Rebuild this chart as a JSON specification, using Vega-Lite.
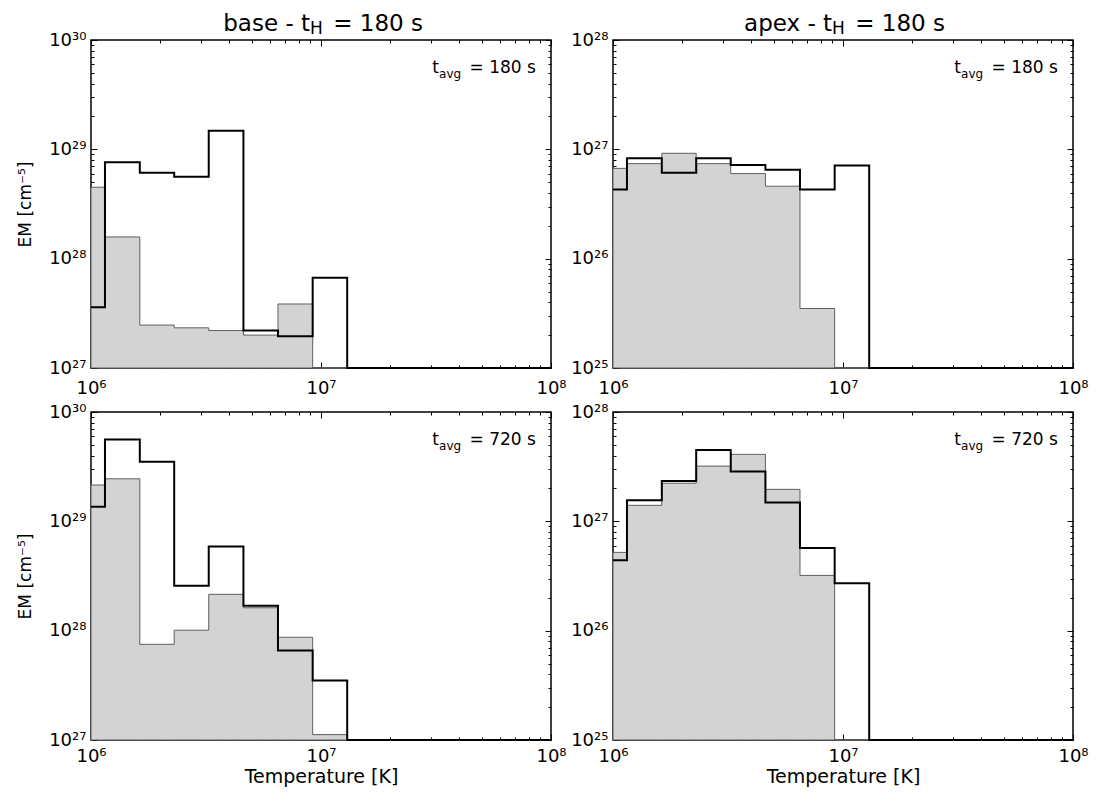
{
  "$schema": "https://vega.github.io/schema/vega-lite/v6.json",
  "padding": {"left": 15, "top": 12, "right": 5, "bottom": 5},
  "bounds": "flush",
  "columns": 2,
  "spacing": {"row": 44, "column": 62},
  "datasets": {
    "hist": [
      {"p": "TL", "s": "gray", "T": 1000000, "EM": 4.5e28},
      {"p": "TL", "s": "gray", "T": 1150000, "EM": 1.58e28},
      {"p": "TL", "s": "gray", "T": 1630000, "EM": 2.47e27},
      {"p": "TL", "s": "gray", "T": 2300000, "EM": 2.33e27},
      {"p": "TL", "s": "gray", "T": 3250000, "EM": 2.2e27},
      {"p": "TL", "s": "gray", "T": 4600000, "EM": 2.0e27},
      {"p": "TL", "s": "gray", "T": 6500000, "EM": 3.85e27},
      {"p": "TL", "s": "gray", "T": 9200000, "EM": 1e27},
      {"p": "TL", "s": "gray", "T": 86500000, "EM": 1e27},
      {"p": "TL", "s": "black", "T": 1000000, "EM": 3.6e27},
      {"p": "TL", "s": "black", "T": 1150000, "EM": 7.6e28},
      {"p": "TL", "s": "black", "T": 1630000, "EM": 6.1e28},
      {"p": "TL", "s": "black", "T": 2300000, "EM": 5.6e28},
      {"p": "TL", "s": "black", "T": 3250000, "EM": 1.48e29},
      {"p": "TL", "s": "black", "T": 4600000, "EM": 2.2e27},
      {"p": "TL", "s": "black", "T": 6500000, "EM": 1.95e27},
      {"p": "TL", "s": "black", "T": 9200000, "EM": 6.7e27},
      {"p": "TL", "s": "black", "T": 13000000, "EM": 1e27},
      {"p": "TL", "s": "black", "T": 100000000, "EM": 1e27},

      {"p": "TR", "s": "gray", "T": 1000000, "EM": 6.7e26},
      {"p": "TR", "s": "gray", "T": 1150000, "EM": 7.4e26},
      {"p": "TR", "s": "gray", "T": 1630000, "EM": 9.2e26},
      {"p": "TR", "s": "gray", "T": 2300000, "EM": 7.4e26},
      {"p": "TR", "s": "gray", "T": 3250000, "EM": 6.0e26},
      {"p": "TR", "s": "gray", "T": 4600000, "EM": 4.6e26},
      {"p": "TR", "s": "gray", "T": 6500000, "EM": 3.5e25},
      {"p": "TR", "s": "gray", "T": 9200000, "EM": 1e25},
      {"p": "TR", "s": "gray", "T": 86500000, "EM": 1e25},
      {"p": "TR", "s": "black", "T": 1000000, "EM": 4.3e26},
      {"p": "TR", "s": "black", "T": 1150000, "EM": 8.3e26},
      {"p": "TR", "s": "black", "T": 1630000, "EM": 6.1e26},
      {"p": "TR", "s": "black", "T": 2300000, "EM": 8.3e26},
      {"p": "TR", "s": "black", "T": 3250000, "EM": 7.2e26},
      {"p": "TR", "s": "black", "T": 4600000, "EM": 6.5e26},
      {"p": "TR", "s": "black", "T": 6500000, "EM": 4.3e26},
      {"p": "TR", "s": "black", "T": 9200000, "EM": 7.1e26},
      {"p": "TR", "s": "black", "T": 13000000, "EM": 1e25},
      {"p": "TR", "s": "black", "T": 100000000, "EM": 1e25},

      {"p": "BL", "s": "gray", "T": 1000000, "EM": 2.15e29},
      {"p": "BL", "s": "gray", "T": 1150000, "EM": 2.45e29},
      {"p": "BL", "s": "gray", "T": 1630000, "EM": 7.5e27},
      {"p": "BL", "s": "gray", "T": 2300000, "EM": 1.01e28},
      {"p": "BL", "s": "gray", "T": 3250000, "EM": 2.15e28},
      {"p": "BL", "s": "gray", "T": 4600000, "EM": 1.62e28},
      {"p": "BL", "s": "gray", "T": 6500000, "EM": 8.7e27},
      {"p": "BL", "s": "gray", "T": 9200000, "EM": 1.12e27},
      {"p": "BL", "s": "gray", "T": 13000000, "EM": 1e27},
      {"p": "BL", "s": "gray", "T": 86500000, "EM": 1e27},
      {"p": "BL", "s": "black", "T": 1000000, "EM": 1.36e29},
      {"p": "BL", "s": "black", "T": 1150000, "EM": 5.6e29},
      {"p": "BL", "s": "black", "T": 1630000, "EM": 3.5e29},
      {"p": "BL", "s": "black", "T": 2300000, "EM": 2.58e28},
      {"p": "BL", "s": "black", "T": 3250000, "EM": 5.9e28},
      {"p": "BL", "s": "black", "T": 4600000, "EM": 1.69e28},
      {"p": "BL", "s": "black", "T": 6500000, "EM": 6.6e27},
      {"p": "BL", "s": "black", "T": 9200000, "EM": 3.5e27},
      {"p": "BL", "s": "black", "T": 13000000, "EM": 1e27},
      {"p": "BL", "s": "black", "T": 100000000, "EM": 1e27},

      {"p": "BR", "s": "gray", "T": 1000000, "EM": 5.2e26},
      {"p": "BR", "s": "gray", "T": 1150000, "EM": 1.4e27},
      {"p": "BR", "s": "gray", "T": 1630000, "EM": 2.23e27},
      {"p": "BR", "s": "gray", "T": 2300000, "EM": 3.2e27},
      {"p": "BR", "s": "gray", "T": 3250000, "EM": 4.1e27},
      {"p": "BR", "s": "gray", "T": 4600000, "EM": 1.96e27},
      {"p": "BR", "s": "gray", "T": 6500000, "EM": 3.2e26},
      {"p": "BR", "s": "gray", "T": 9200000, "EM": 1e25},
      {"p": "BR", "s": "gray", "T": 86500000, "EM": 1e25},
      {"p": "BR", "s": "black", "T": 1000000, "EM": 4.4e26},
      {"p": "BR", "s": "black", "T": 1150000, "EM": 1.56e27},
      {"p": "BR", "s": "black", "T": 1630000, "EM": 2.34e27},
      {"p": "BR", "s": "black", "T": 2300000, "EM": 4.5e27},
      {"p": "BR", "s": "black", "T": 3250000, "EM": 2.85e27},
      {"p": "BR", "s": "black", "T": 4600000, "EM": 1.49e27},
      {"p": "BR", "s": "black", "T": 6500000, "EM": 5.7e26},
      {"p": "BR", "s": "black", "T": 9200000, "EM": 2.72e26},
      {"p": "BR", "s": "black", "T": 13000000, "EM": 1e25},
      {"p": "BR", "s": "black", "T": 100000000, "EM": 1e25}
    ],
    "ann": [
      {"p": "TL", "tavg": "= 180 s"},
      {"p": "TR", "tavg": "= 180 s"},
      {"p": "BL", "tavg": "= 720 s"},
      {"p": "BR", "tavg": "= 720 s"}
    ]
  },
  "concat": [
        {
          "width": 460, "height": 328,
          "layer": [
            {"data": {"name": "hist"}, "transform": [{"filter": "datum.p == 'TL' && datum.s == 'gray'"}],
             "mark": {"type": "area", "interpolate": "step-after", "fill": "#d3d3d3", "stroke": "#5f5f5f", "strokeWidth": 1},
             "encoding": {
               "x": {"field": "T", "type": "quantitative", "scale": {"type": "log", "domain": [1000000, 100000000], "nice": false},
                     "axis": {"orient": "bottom", "offset": -6, "tickSize": 6, "values": [1000000, 10000000, 100000000], "labelExpr": "'10' + (round(log(datum.value)/LN10) >= 10 ? substring('⁰¹²³⁴⁵⁶⁷⁸⁹', floor(round(log(datum.value)/LN10)/10), floor(round(log(datum.value)/LN10)/10)+1) : '') + substring('⁰¹²³⁴⁵⁶⁷⁸⁹', round(log(datum.value)/LN10)%10, round(log(datum.value)/LN10)%10+1)", "labelPadding": 11, "labelFlush": false, "labelOverlap": false, "labelFontSize": 18, "title": null}},
               "y": {"field": "EM", "type": "quantitative", "stack": null, "scale": {"type": "log", "domain": [1e27, 1e30], "nice": false},
                     "axis": {"orient": "left", "offset": -6, "tickSize": 6, "values": [1e27, 1e28, 1e29, 1e30], "labelExpr": "'10' + (round(log(datum.value)/LN10) >= 10 ? substring('⁰¹²³⁴⁵⁶⁷⁸⁹', floor(round(log(datum.value)/LN10)/10), floor(round(log(datum.value)/LN10)/10)+1) : '') + substring('⁰¹²³⁴⁵⁶⁷⁸⁹', round(log(datum.value)/LN10)%10, round(log(datum.value)/LN10)%10+1)", "labelPadding": 5, "labelFlush": false, "labelOverlap": false, "labelFontSize": 18, "title": "EM [cm⁻⁵]", "titleFontSize": 17, "titlePadding": 14}}
             }},
            {"data": {"name": "hist"}, "transform": [{"filter": "datum.p == 'TL' && datum.s == 'black'"}],
             "mark": {"type": "line", "interpolate": "step-after", "color": "black", "strokeWidth": 2},
             "encoding": {
               "x": {"field": "T", "type": "quantitative", "scale": {"type": "log", "domain": [1000000, 100000000], "nice": false},
                     "axis": {"orient": "bottom", "offset": -3, "tickSize": 3, "values": [2000000, 3000000, 4000000, 5000000, 6000000, 7000000, 8000000, 9000000, 20000000, 30000000, 40000000, 50000000, 60000000, 70000000, 80000000, 90000000], "labels": false, "title": null}},
               "y": {"field": "EM", "type": "quantitative", "scale": {"type": "log", "domain": [1e27, 1e30], "nice": false},
                     "axis": {"orient": "left", "offset": -3, "tickSize": 3, "values": [2e27, 3e27, 4e27, 5e27, 6e27, 7e27, 8e27, 9e27, 2e28, 3e28, 4e28, 5e28, 6e28, 7e28, 8e28, 9e28, 2e29, 3e29, 4e29, 5e29, 6e29, 7e29, 8e29, 9e29], "labels": false, "title": null}}
             }},
            {"data": {"name": "ann"}, "transform": [{"filter": "datum.p == 'TL'"}],
             "mark": {"type": "text", "align": "right", "baseline": "alphabetic", "fontSize": 17},
             "encoding": {
               "x": {"datum": 86000000, "type": "quantitative", "scale": {"type": "log", "domain": [1000000, 100000000], "nice": false},
                     "axis": {"orient": "top", "offset": -6, "tickSize": 6, "values": [1000000, 10000000, 100000000], "labels": false, "title": null}},
               "y": {"datum": 5.02e29, "type": "quantitative", "scale": {"type": "log", "domain": [1e27, 1e30], "nice": false},
                     "axis": {"orient": "right", "offset": -6, "tickSize": 6, "values": [1e27, 1e28, 1e29, 1e30], "labels": false, "title": null}},
               "text": {"field": "tavg"}
             }},
            {"data": {"name": "ann"}, "transform": [{"filter": "datum.p == 'TL'"}],
             "mark": {"type": "text", "align": "left", "baseline": "alphabetic", "fontSize": 12, "text": "avg"},
             "encoding": {
               "x": {"datum": 32600000, "type": "quantitative", "scale": {"type": "log", "domain": [1000000, 100000000], "nice": false},
                     "axis": {"orient": "top", "offset": -3, "tickSize": 3, "values": [2000000, 3000000, 4000000, 5000000, 6000000, 7000000, 8000000, 9000000, 20000000, 30000000, 40000000, 50000000, 60000000, 70000000, 80000000, 90000000], "labels": false, "title": null}},
               "y": {"datum": 4.5e29, "type": "quantitative", "scale": {"type": "log", "domain": [1e27, 1e30], "nice": false},
                     "axis": {"orient": "right", "offset": -3, "tickSize": 3, "values": [2e27, 3e27, 4e27, 5e27, 6e27, 7e27, 8e27, 9e27, 2e28, 3e28, 4e28, 5e28, 6e28, 7e28, 8e28, 9e28, 2e29, 3e29, 4e29, 5e29, 6e29, 7e29, 8e29, 9e29], "labels": false, "title": null}}
             }},
            {"data": {"name": "ann"}, "transform": [{"filter": "datum.p == 'TL'"}],
             "mark": {"type": "text", "align": "right", "baseline": "alphabetic", "fontSize": 17, "text": "t"},
             "encoding": {
               "x": {"datum": 32600000, "type": "quantitative", "scale": {"type": "log", "domain": [1000000, 100000000], "nice": false}, "axis": null},
               "y": {"datum": 5.02e29, "type": "quantitative", "scale": {"type": "log", "domain": [1e27, 1e30], "nice": false}, "axis": null}
             }},
            {"data": {"name": "ann"}, "transform": [{"filter": "datum.p == 'TL'"}],
             "mark": {"type": "text", "align": "right", "baseline": "alphabetic", "fontSize": 23, "text": "base - t"},
             "encoding": {
               "x": {"datum": 8960000, "type": "quantitative", "scale": {"type": "log", "domain": [1000000, 100000000], "nice": false}, "axis": null},
               "y": {"datum": 1.21e30, "type": "quantitative", "scale": {"type": "log", "domain": [1e27, 1e30], "nice": false}, "axis": null}
             }},
            {"data": {"name": "ann"}, "transform": [{"filter": "datum.p == 'TL'"}],
             "mark": {"type": "text", "align": "left", "baseline": "alphabetic", "fontSize": 17, "text": "H"},
             "encoding": {
               "x": {"datum": 8960000, "type": "quantitative", "scale": {"type": "log", "domain": [1000000, 100000000], "nice": false}, "axis": null},
               "y": {"datum": 1.14e30, "type": "quantitative", "scale": {"type": "log", "domain": [1e27, 1e30], "nice": false}, "axis": null}
             }},
            {"data": {"name": "ann"}, "transform": [{"filter": "datum.p == 'TL'"}],
             "mark": {"type": "text", "align": "left", "baseline": "alphabetic", "fontSize": 23, "text": "= 180 s"},
             "encoding": {
               "x": {"datum": 11300000, "type": "quantitative", "scale": {"type": "log", "domain": [1000000, 100000000], "nice": false}, "axis": null},
               "y": {"datum": 1.21e30, "type": "quantitative", "scale": {"type": "log", "domain": [1e27, 1e30], "nice": false}, "axis": null}
             }}
          ],
          "resolve": {"axis": {"x": "independent", "y": "independent"}}
        },
        {
          "width": 460, "height": 328,
          "layer": [
            {"data": {"name": "hist"}, "transform": [{"filter": "datum.p == 'TR' && datum.s == 'gray'"}],
             "mark": {"type": "area", "interpolate": "step-after", "fill": "#d3d3d3", "stroke": "#5f5f5f", "strokeWidth": 1},
             "encoding": {
               "x": {"field": "T", "type": "quantitative", "scale": {"type": "log", "domain": [1000000, 100000000], "nice": false},
                     "axis": {"orient": "bottom", "offset": -6, "tickSize": 6, "values": [1000000, 10000000, 100000000], "labelExpr": "'10' + (round(log(datum.value)/LN10) >= 10 ? substring('⁰¹²³⁴⁵⁶⁷⁸⁹', floor(round(log(datum.value)/LN10)/10), floor(round(log(datum.value)/LN10)/10)+1) : '') + substring('⁰¹²³⁴⁵⁶⁷⁸⁹', round(log(datum.value)/LN10)%10, round(log(datum.value)/LN10)%10+1)", "labelPadding": 11, "labelFlush": false, "labelOverlap": false, "labelFontSize": 18, "title": null}},
               "y": {"field": "EM", "type": "quantitative", "stack": null, "scale": {"type": "log", "domain": [1e25, 1e28], "nice": false},
                     "axis": {"orient": "left", "offset": -6, "tickSize": 6, "values": [1e25, 1e26, 1e27, 1e28], "labelExpr": "'10' + (round(log(datum.value)/LN10) >= 10 ? substring('⁰¹²³⁴⁵⁶⁷⁸⁹', floor(round(log(datum.value)/LN10)/10), floor(round(log(datum.value)/LN10)/10)+1) : '') + substring('⁰¹²³⁴⁵⁶⁷⁸⁹', round(log(datum.value)/LN10)%10, round(log(datum.value)/LN10)%10+1)", "labelPadding": 5, "labelFlush": false, "labelOverlap": false, "labelFontSize": 18, "title": null}}
             }},
            {"data": {"name": "hist"}, "transform": [{"filter": "datum.p == 'TR' && datum.s == 'black'"}],
             "mark": {"type": "line", "interpolate": "step-after", "color": "black", "strokeWidth": 2},
             "encoding": {
               "x": {"field": "T", "type": "quantitative", "scale": {"type": "log", "domain": [1000000, 100000000], "nice": false},
                     "axis": {"orient": "bottom", "offset": -3, "tickSize": 3, "values": [2000000, 3000000, 4000000, 5000000, 6000000, 7000000, 8000000, 9000000, 20000000, 30000000, 40000000, 50000000, 60000000, 70000000, 80000000, 90000000], "labels": false, "title": null}},
               "y": {"field": "EM", "type": "quantitative", "scale": {"type": "log", "domain": [1e25, 1e28], "nice": false},
                     "axis": {"orient": "left", "offset": -3, "tickSize": 3, "values": [2e25, 3e25, 4e25, 5e25, 6e25, 7e25, 8e25, 9e25, 2e26, 3e26, 4e26, 5e26, 6e26, 7e26, 8e26, 9e26, 2e27, 3e27, 4e27, 5e27, 6e27, 7e27, 8e27, 9e27], "labels": false, "title": null}}
             }},
            {"data": {"name": "ann"}, "transform": [{"filter": "datum.p == 'TR'"}],
             "mark": {"type": "text", "align": "right", "baseline": "alphabetic", "fontSize": 17},
             "encoding": {
               "x": {"datum": 86000000, "type": "quantitative", "scale": {"type": "log", "domain": [1000000, 100000000], "nice": false},
                     "axis": {"orient": "top", "offset": -6, "tickSize": 6, "values": [1000000, 10000000, 100000000], "labels": false, "title": null}},
               "y": {"datum": 5.02e27, "type": "quantitative", "scale": {"type": "log", "domain": [1e25, 1e28], "nice": false},
                     "axis": {"orient": "right", "offset": -6, "tickSize": 6, "values": [1e25, 1e26, 1e27, 1e28], "labels": false, "title": null}},
               "text": {"field": "tavg"}
             }},
            {"data": {"name": "ann"}, "transform": [{"filter": "datum.p == 'TR'"}],
             "mark": {"type": "text", "align": "left", "baseline": "alphabetic", "fontSize": 12, "text": "avg"},
             "encoding": {
               "x": {"datum": 32600000, "type": "quantitative", "scale": {"type": "log", "domain": [1000000, 100000000], "nice": false},
                     "axis": {"orient": "top", "offset": -3, "tickSize": 3, "values": [2000000, 3000000, 4000000, 5000000, 6000000, 7000000, 8000000, 9000000, 20000000, 30000000, 40000000, 50000000, 60000000, 70000000, 80000000, 90000000], "labels": false, "title": null}},
               "y": {"datum": 4.5e27, "type": "quantitative", "scale": {"type": "log", "domain": [1e25, 1e28], "nice": false},
                     "axis": {"orient": "right", "offset": -3, "tickSize": 3, "values": [2e25, 3e25, 4e25, 5e25, 6e25, 7e25, 8e25, 9e25, 2e26, 3e26, 4e26, 5e26, 6e26, 7e26, 8e26, 9e26, 2e27, 3e27, 4e27, 5e27, 6e27, 7e27, 8e27, 9e27], "labels": false, "title": null}}
             }},
            {"data": {"name": "ann"}, "transform": [{"filter": "datum.p == 'TR'"}],
             "mark": {"type": "text", "align": "right", "baseline": "alphabetic", "fontSize": 17, "text": "t"},
             "encoding": {
               "x": {"datum": 32600000, "type": "quantitative", "scale": {"type": "log", "domain": [1000000, 100000000], "nice": false}, "axis": null},
               "y": {"datum": 5.02e27, "type": "quantitative", "scale": {"type": "log", "domain": [1e25, 1e28], "nice": false}, "axis": null}
             }},
            {"data": {"name": "ann"}, "transform": [{"filter": "datum.p == 'TR'"}],
             "mark": {"type": "text", "align": "right", "baseline": "alphabetic", "fontSize": 23, "text": "apex - t"},
             "encoding": {
               "x": {"datum": 8960000, "type": "quantitative", "scale": {"type": "log", "domain": [1000000, 100000000], "nice": false}, "axis": null},
               "y": {"datum": 1.21e28, "type": "quantitative", "scale": {"type": "log", "domain": [1e25, 1e28], "nice": false}, "axis": null}
             }},
            {"data": {"name": "ann"}, "transform": [{"filter": "datum.p == 'TR'"}],
             "mark": {"type": "text", "align": "left", "baseline": "alphabetic", "fontSize": 17, "text": "H"},
             "encoding": {
               "x": {"datum": 8960000, "type": "quantitative", "scale": {"type": "log", "domain": [1000000, 100000000], "nice": false}, "axis": null},
               "y": {"datum": 1.14e28, "type": "quantitative", "scale": {"type": "log", "domain": [1e25, 1e28], "nice": false}, "axis": null}
             }},
            {"data": {"name": "ann"}, "transform": [{"filter": "datum.p == 'TR'"}],
             "mark": {"type": "text", "align": "left", "baseline": "alphabetic", "fontSize": 23, "text": "= 180 s"},
             "encoding": {
               "x": {"datum": 11300000, "type": "quantitative", "scale": {"type": "log", "domain": [1000000, 100000000], "nice": false}, "axis": null},
               "y": {"datum": 1.21e28, "type": "quantitative", "scale": {"type": "log", "domain": [1e25, 1e28], "nice": false}, "axis": null}
             }}
          ],
          "resolve": {"axis": {"x": "independent", "y": "independent"}}
        },
        {
          "width": 460, "height": 328,
          "layer": [
            {"data": {"name": "hist"}, "transform": [{"filter": "datum.p == 'BL' && datum.s == 'gray'"}],
             "mark": {"type": "area", "interpolate": "step-after", "fill": "#d3d3d3", "stroke": "#5f5f5f", "strokeWidth": 1},
             "encoding": {
               "x": {"field": "T", "type": "quantitative", "scale": {"type": "log", "domain": [1000000, 100000000], "nice": false},
                     "axis": {"orient": "bottom", "offset": -6, "tickSize": 6, "values": [1000000, 10000000, 100000000], "labelExpr": "'10' + (round(log(datum.value)/LN10) >= 10 ? substring('⁰¹²³⁴⁵⁶⁷⁸⁹', floor(round(log(datum.value)/LN10)/10), floor(round(log(datum.value)/LN10)/10)+1) : '') + substring('⁰¹²³⁴⁵⁶⁷⁸⁹', round(log(datum.value)/LN10)%10, round(log(datum.value)/LN10)%10+1)", "labelPadding": 7, "labelFlush": false, "labelOverlap": false, "labelFontSize": 18, "title": "Temperature [K]", "titleFontSize": 19, "titlePadding": 2}},
               "y": {"field": "EM", "type": "quantitative", "stack": null, "scale": {"type": "log", "domain": [1e27, 1e30], "nice": false},
                     "axis": {"orient": "left", "offset": -6, "tickSize": 6, "values": [1e27, 1e28, 1e29, 1e30], "labelExpr": "'10' + (round(log(datum.value)/LN10) >= 10 ? substring('⁰¹²³⁴⁵⁶⁷⁸⁹', floor(round(log(datum.value)/LN10)/10), floor(round(log(datum.value)/LN10)/10)+1) : '') + substring('⁰¹²³⁴⁵⁶⁷⁸⁹', round(log(datum.value)/LN10)%10, round(log(datum.value)/LN10)%10+1)", "labelPadding": 5, "labelFlush": false, "labelOverlap": false, "labelFontSize": 18, "title": "EM [cm⁻⁵]", "titleFontSize": 17, "titlePadding": 14}}
             }},
            {"data": {"name": "hist"}, "transform": [{"filter": "datum.p == 'BL' && datum.s == 'black'"}],
             "mark": {"type": "line", "interpolate": "step-after", "color": "black", "strokeWidth": 2},
             "encoding": {
               "x": {"field": "T", "type": "quantitative", "scale": {"type": "log", "domain": [1000000, 100000000], "nice": false},
                     "axis": {"orient": "bottom", "offset": -3, "tickSize": 3, "values": [2000000, 3000000, 4000000, 5000000, 6000000, 7000000, 8000000, 9000000, 20000000, 30000000, 40000000, 50000000, 60000000, 70000000, 80000000, 90000000], "labels": false, "title": null}},
               "y": {"field": "EM", "type": "quantitative", "scale": {"type": "log", "domain": [1e27, 1e30], "nice": false},
                     "axis": {"orient": "left", "offset": -3, "tickSize": 3, "values": [2e27, 3e27, 4e27, 5e27, 6e27, 7e27, 8e27, 9e27, 2e28, 3e28, 4e28, 5e28, 6e28, 7e28, 8e28, 9e28, 2e29, 3e29, 4e29, 5e29, 6e29, 7e29, 8e29, 9e29], "labels": false, "title": null}}
             }},
            {"data": {"name": "ann"}, "transform": [{"filter": "datum.p == 'BL'"}],
             "mark": {"type": "text", "align": "right", "baseline": "alphabetic", "fontSize": 17},
             "encoding": {
               "x": {"datum": 86000000, "type": "quantitative", "scale": {"type": "log", "domain": [1000000, 100000000], "nice": false},
                     "axis": {"orient": "top", "offset": -6, "tickSize": 6, "values": [1000000, 10000000, 100000000], "labels": false, "title": null}},
               "y": {"datum": 5.02e29, "type": "quantitative", "scale": {"type": "log", "domain": [1e27, 1e30], "nice": false},
                     "axis": {"orient": "right", "offset": -6, "tickSize": 6, "values": [1e27, 1e28, 1e29, 1e30], "labels": false, "title": null}},
               "text": {"field": "tavg"}
             }},
            {"data": {"name": "ann"}, "transform": [{"filter": "datum.p == 'BL'"}],
             "mark": {"type": "text", "align": "left", "baseline": "alphabetic", "fontSize": 12, "text": "avg"},
             "encoding": {
               "x": {"datum": 32600000, "type": "quantitative", "scale": {"type": "log", "domain": [1000000, 100000000], "nice": false},
                     "axis": {"orient": "top", "offset": -3, "tickSize": 3, "values": [2000000, 3000000, 4000000, 5000000, 6000000, 7000000, 8000000, 9000000, 20000000, 30000000, 40000000, 50000000, 60000000, 70000000, 80000000, 90000000], "labels": false, "title": null}},
               "y": {"datum": 4.5e29, "type": "quantitative", "scale": {"type": "log", "domain": [1e27, 1e30], "nice": false},
                     "axis": {"orient": "right", "offset": -3, "tickSize": 3, "values": [2e27, 3e27, 4e27, 5e27, 6e27, 7e27, 8e27, 9e27, 2e28, 3e28, 4e28, 5e28, 6e28, 7e28, 8e28, 9e28, 2e29, 3e29, 4e29, 5e29, 6e29, 7e29, 8e29, 9e29], "labels": false, "title": null}}
             }},
            {"data": {"name": "ann"}, "transform": [{"filter": "datum.p == 'BL'"}],
             "mark": {"type": "text", "align": "right", "baseline": "alphabetic", "fontSize": 17, "text": "t"},
             "encoding": {
               "x": {"datum": 32600000, "type": "quantitative", "scale": {"type": "log", "domain": [1000000, 100000000], "nice": false}, "axis": null},
               "y": {"datum": 5.02e29, "type": "quantitative", "scale": {"type": "log", "domain": [1e27, 1e30], "nice": false}, "axis": null}
             }}
          ],
          "resolve": {"axis": {"x": "independent", "y": "independent"}}
        },
        {
          "width": 460, "height": 328,
          "layer": [
            {"data": {"name": "hist"}, "transform": [{"filter": "datum.p == 'BR' && datum.s == 'gray'"}],
             "mark": {"type": "area", "interpolate": "step-after", "fill": "#d3d3d3", "stroke": "#5f5f5f", "strokeWidth": 1},
             "encoding": {
               "x": {"field": "T", "type": "quantitative", "scale": {"type": "log", "domain": [1000000, 100000000], "nice": false},
                     "axis": {"orient": "bottom", "offset": -6, "tickSize": 6, "values": [1000000, 10000000, 100000000], "labelExpr": "'10' + (round(log(datum.value)/LN10) >= 10 ? substring('⁰¹²³⁴⁵⁶⁷⁸⁹', floor(round(log(datum.value)/LN10)/10), floor(round(log(datum.value)/LN10)/10)+1) : '') + substring('⁰¹²³⁴⁵⁶⁷⁸⁹', round(log(datum.value)/LN10)%10, round(log(datum.value)/LN10)%10+1)", "labelPadding": 7, "labelFlush": false, "labelOverlap": false, "labelFontSize": 18, "title": "Temperature [K]", "titleFontSize": 19, "titlePadding": 2}},
               "y": {"field": "EM", "type": "quantitative", "stack": null, "scale": {"type": "log", "domain": [1e25, 1e28], "nice": false},
                     "axis": {"orient": "left", "offset": -6, "tickSize": 6, "values": [1e25, 1e26, 1e27, 1e28], "labelExpr": "'10' + (round(log(datum.value)/LN10) >= 10 ? substring('⁰¹²³⁴⁵⁶⁷⁸⁹', floor(round(log(datum.value)/LN10)/10), floor(round(log(datum.value)/LN10)/10)+1) : '') + substring('⁰¹²³⁴⁵⁶⁷⁸⁹', round(log(datum.value)/LN10)%10, round(log(datum.value)/LN10)%10+1)", "labelPadding": 5, "labelFlush": false, "labelOverlap": false, "labelFontSize": 18, "title": null}}
             }},
            {"data": {"name": "hist"}, "transform": [{"filter": "datum.p == 'BR' && datum.s == 'black'"}],
             "mark": {"type": "line", "interpolate": "step-after", "color": "black", "strokeWidth": 2},
             "encoding": {
               "x": {"field": "T", "type": "quantitative", "scale": {"type": "log", "domain": [1000000, 100000000], "nice": false},
                     "axis": {"orient": "bottom", "offset": -3, "tickSize": 3, "values": [2000000, 3000000, 4000000, 5000000, 6000000, 7000000, 8000000, 9000000, 20000000, 30000000, 40000000, 50000000, 60000000, 70000000, 80000000, 90000000], "labels": false, "title": null}},
               "y": {"field": "EM", "type": "quantitative", "scale": {"type": "log", "domain": [1e25, 1e28], "nice": false},
                     "axis": {"orient": "left", "offset": -3, "tickSize": 3, "values": [2e25, 3e25, 4e25, 5e25, 6e25, 7e25, 8e25, 9e25, 2e26, 3e26, 4e26, 5e26, 6e26, 7e26, 8e26, 9e26, 2e27, 3e27, 4e27, 5e27, 6e27, 7e27, 8e27, 9e27], "labels": false, "title": null}}
             }},
            {"data": {"name": "ann"}, "transform": [{"filter": "datum.p == 'BR'"}],
             "mark": {"type": "text", "align": "right", "baseline": "alphabetic", "fontSize": 17},
             "encoding": {
               "x": {"datum": 86000000, "type": "quantitative", "scale": {"type": "log", "domain": [1000000, 100000000], "nice": false},
                     "axis": {"orient": "top", "offset": -6, "tickSize": 6, "values": [1000000, 10000000, 100000000], "labels": false, "title": null}},
               "y": {"datum": 5.02e27, "type": "quantitative", "scale": {"type": "log", "domain": [1e25, 1e28], "nice": false},
                     "axis": {"orient": "right", "offset": -6, "tickSize": 6, "values": [1e25, 1e26, 1e27, 1e28], "labels": false, "title": null}},
               "text": {"field": "tavg"}
             }},
            {"data": {"name": "ann"}, "transform": [{"filter": "datum.p == 'BR'"}],
             "mark": {"type": "text", "align": "left", "baseline": "alphabetic", "fontSize": 12, "text": "avg"},
             "encoding": {
               "x": {"datum": 32600000, "type": "quantitative", "scale": {"type": "log", "domain": [1000000, 100000000], "nice": false},
                     "axis": {"orient": "top", "offset": -3, "tickSize": 3, "values": [2000000, 3000000, 4000000, 5000000, 6000000, 7000000, 8000000, 9000000, 20000000, 30000000, 40000000, 50000000, 60000000, 70000000, 80000000, 90000000], "labels": false, "title": null}},
               "y": {"datum": 4.5e27, "type": "quantitative", "scale": {"type": "log", "domain": [1e25, 1e28], "nice": false},
                     "axis": {"orient": "right", "offset": -3, "tickSize": 3, "values": [2e25, 3e25, 4e25, 5e25, 6e25, 7e25, 8e25, 9e25, 2e26, 3e26, 4e26, 5e26, 6e26, 7e26, 8e26, 9e26, 2e27, 3e27, 4e27, 5e27, 6e27, 7e27, 8e27, 9e27], "labels": false, "title": null}}
             }},
            {"data": {"name": "ann"}, "transform": [{"filter": "datum.p == 'BR'"}],
             "mark": {"type": "text", "align": "right", "baseline": "alphabetic", "fontSize": 17, "text": "t"},
             "encoding": {
               "x": {"datum": 32600000, "type": "quantitative", "scale": {"type": "log", "domain": [1000000, 100000000], "nice": false}, "axis": null},
               "y": {"datum": 5.02e27, "type": "quantitative", "scale": {"type": "log", "domain": [1e25, 1e28], "nice": false}, "axis": null}
             }}
          ],
          "resolve": {"axis": {"x": "independent", "y": "independent"}}
        }
  ],
  "config": {
    "font": "DejaVu Sans",
    "view": {"stroke": "black", "strokeWidth": 1.5},
    "axis": {"domain": false, "grid": false, "zindex": 1, "tickColor": "black", "tickWidth": 1, "labelColor": "black", "titleColor": "black", "titleFontWeight": "normal", "labelFont": "DejaVu Sans", "titleFont": "DejaVu Sans"},
    "text": {"font": "DejaVu Sans", "color": "black"}
  }
}
